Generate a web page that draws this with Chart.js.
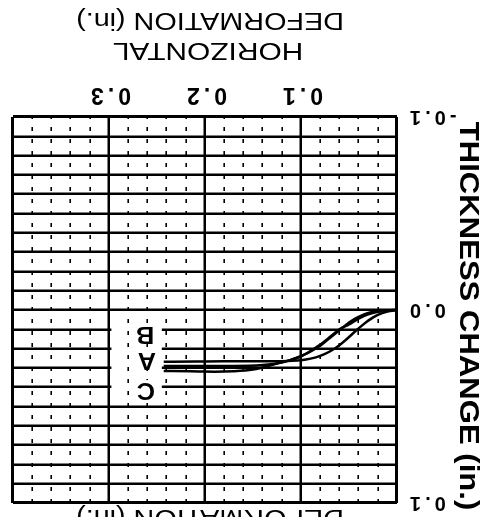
<!DOCTYPE html>
<html><head><meta charset="utf-8">
<script src="https://cdn.jsdelivr.net/npm/chart.js@4.4.1/dist/chart.umd.min.js"></script>
<style>
html,body{margin:0;padding:0;background:#fff;}
#wrap{width:491px;height:517px;transform:rotate(180deg);transform-origin:50% 50%;}
canvas{display:block;}
</style></head><body>
<div id="wrap"><canvas id="c" width="491" height="517"></canvas></div>
<script>
// ---- data ----
const xTickLabels = ['0.1', '0.2', '0.3'];
const yTickLabels = ['-0.1', '0.0', '0.1'];
const xTitleLines = ['HORIZONTAL', 'DEFORMATION (in.)'];
const yTitle = 'THICKNESS CHANGE (in.)';
const clippedTitle = 'DEFORMATION (in.)';
const seriesNames = ['A', 'B', 'C'];

const aX = [0, 0.01, 0.02, 0.03, 0.04, 0.05, 0.06, 0.07, 0.08, 0.09, 0.10, 0.12, 0.15, 0.18, 0.21, 0.243];
const aY = [0, 0.0008, 0.0025, 0.0055, 0.0095, 0.0140, 0.0183, 0.0215, 0.0238, 0.0252, 0.0260, 0.0265, 0.0266, 0.0266, 0.0267, 0.0268];

const bX = [0, 0.01, 0.02, 0.03, 0.04, 0.05, 0.06, 0.07, 0.08, 0.09, 0.10, 0.11, 0.12, 0.14, 0.17, 0.21, 0.243];
const bY = [0, 0.0002, 0.0006, 0.0015, 0.0035, 0.0065, 0.0105, 0.0145, 0.0185, 0.0215, 0.0238, 0.0258, 0.0272, 0.0285, 0.0290, 0.0290, 0.0290];

const cX = [0, 0.01, 0.02, 0.03, 0.04, 0.05, 0.06, 0.07, 0.08, 0.09, 0.10, 0.11, 0.12, 0.135, 0.15, 0.17, 0.19, 0.215, 0.243];
const cY = [0, 0.0003, 0.0009, 0.0022, 0.0045, 0.0075, 0.0100, 0.0140, 0.0180, 0.0212, 0.0240, 0.0258, 0.0270, 0.0292, 0.0308, 0.0317, 0.0320, 0.0318, 0.0316];

// label anchors (data units)
const labelAnchorX = [0.2605, 0.2625, 0.2615];
const labelAnchorY = [0.0259, 0.0124, 0.0415];

// ---- build ----
const xs = [aX, bX, cX], ys = [aY, bY, cY];
const pts = (X, Y) => X.map((x, i) => ({x: x, y: Y[i]}));
const isMult = (v, s) => Math.abs(v / s - Math.round(v / s)) < 1e-6;
const fmt = v => { if (Math.abs(v) < 1e-9) v = 0; return v.toFixed(1); };
const FONT = '"Liberation Sans", Arial, sans-serif';

const noPad = s => { s.paddingTop = 0; s.paddingBottom = 0; s.paddingLeft = 0; s.paddingRight = 0; };

function wideText(ctx, text, x, y, sx) {
  ctx.save();
  ctx.translate(x, y);
  ctx.scale(sx, 1);
  ctx.fillText(text, 0, 0);
  ctx.restore();
}

const textPlugin = {
  id: 'texts',
  beforeDraw(chart) { chart.ctx.letterSpacing = '4px'; },
  beforeDatasetsDraw(chart) {
    const {ctx, scales} = chart;
    const x0 = scales.x.getPixelForValue(0.245), x1 = scales.x.getPixelForValue(0.2975);
    const y0 = scales.y.getPixelForValue(0.047), y1 = scales.y.getPixelForValue(0.0055);
    ctx.save(); ctx.fillStyle = '#fff'; ctx.fillRect(x0, y0, x1 - x0, y1 - y0); ctx.restore();
  },
  afterDraw(chart) {
    const {ctx, chartArea: a, scales} = chart;
    ctx.save();
    ctx.fillStyle = '#000';
    ctx.textAlign = 'center';
    ctx.textBaseline = 'alphabetic';
    ctx.letterSpacing = '0px';
    ctx.font = '23px ' + FONT;
    ctx.strokeStyle = '#000';
    ctx.lineWidth = 0.6;
    const cx = (a.left + a.right) / 2 - 5;
    wideText(ctx, xTitleLines[0], cx + 2, a.bottom + 74, 1.3);
    wideText(ctx, xTitleLines[1], cx, a.bottom + 104, 1.25);
    wideText(ctx, clippedTitle, cx, 7, 1.25);
    // series letters
    ctx.font = 'bold 23px ' + FONT;
    ctx.textBaseline = 'middle';
    seriesNames.forEach((n, i) => {
      const px = scales.x.getPixelForValue(labelAnchorX[i]);
      const py = scales.y.getPixelForValue(labelAnchorY[i]);
      const w = ctx.measureText(n).width;
      ctx.fillStyle = '#fff';
      ctx.fillRect(px - w / 2 - 2, py - 10, w + 4, 20);
      ctx.fillStyle = '#000';
      wideText(ctx, n, px, py + 1, 1.1);
    });
    // y title
    ctx.textBaseline = 'alphabetic';
    ctx.font = 'bold 28px ' + FONT;
    ctx.translate(31, (a.top + a.bottom) / 2 - 6);
    ctx.rotate(-Math.PI / 2);
    wideText(ctx, yTitle, 0, 0, 1.11);
    ctx.restore();
  }
};

new Chart(document.getElementById('c').getContext('2d'), {
  type: 'line',
  data: {
    datasets: seriesNames.map((n, i) => ({
      label: n, data: pts(xs[i], ys[i]),
      borderColor: '#000', borderWidth: 2.5, pointRadius: 0,
      cubicInterpolationMode: 'monotone', fill: false
    }))
  },
  options: {
    responsive: false, animation: false, devicePixelRatio: 1,
    layout: {padding: {left: 0, right: 13, top: 14, bottom: 0}},
    plugins: {legend: {display: false}, tooltip: {enabled: false}, title: {display: false}},
    scales: {
      x: {
        type: 'linear', position: 'bottom', min: 0, max: 0.4,
        ticks: {
          stepSize: 0.1, autoSkip: false, maxRotation: 0, minRotation: 0, padding: 9,
          color: '#000', font: {family: FONT, size: 23, weight: 'bold'},
          callback: v => { const s = fmt(v); return (isMult(v, 0.1) && xTickLabels.includes(s)) ? s : ''; }
        },
        grid: {
          color: '#000', drawTicks: false,
          lineWidth: c => (c.tick && (isMult(c.tick.value, 0.4))) ? 3 : 2.5
        },
        border: {display: false},
        afterFit: s => { s.height = 117; noPad(s); }
      },
      xMinor: {
        type: 'linear', position: 'bottom', min: 0, max: 0.4,
        ticks: {stepSize: 0.02, display: false, autoSkip: false},
        grid: {
          color: '#000', drawTicks: false, z: 1,
          lineWidth: c => (c.tick && isMult(c.tick.value, 0.1)) ? 0 : 1.6
        },
        border: {display: false, dash: [4, 8]},
        afterFit: s => { s.height = 0; noPad(s); }
      },
      y: {
        type: 'linear', position: 'left', min: -0.1, max: 0.1,
        ticks: {
          stepSize: 0.01, autoSkip: false, padding: 9, maxTicksLimit: 100,
          color: '#000', font: {family: FONT, size: 20, weight: 'bold'},
          callback: v => { const s = fmt(v); return (isMult(v, 0.1) && yTickLabels.includes(s)) ? s : ''; }
        },
        grid: {
          color: '#000', drawTicks: false,
          lineWidth: c => (c.tick && Math.abs(Math.abs(c.tick.value) - 0.1) < 1e-6) ? 3 : 2.5
        },
        border: {display: false},
        afterFit: s => { s.width = 94; noPad(s); }
      }
    }
  },
  plugins: [textPlugin]
});
</script>
</body></html>
